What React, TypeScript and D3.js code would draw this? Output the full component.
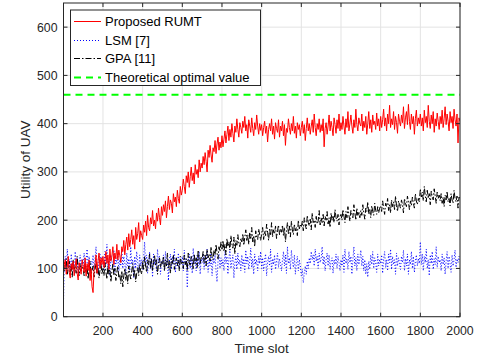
import React from 'react';
import * as d3 from 'd3';

// sampled every 5 time slots (slot 0..2000)
const rumt = [
  95, 108, 118, 88, 102, 125, 92, 80, 110, 98, 115, 85, 105, 120, 90, 76, 112, 100, 88, 118,
  105, 92, 122, 84, 110, 96, 118, 75, 100, 62, 50, 95, 108, 128, 90, 115, 132, 100, 122, 108,
  125, 102, 118, 135, 110, 128, 98, 140, 115, 125, 145, 108, 132, 120, 150, 118, 138, 126, 112, 145,
  135, 158, 128, 150, 165, 138, 172, 145, 160, 180, 150, 168, 140, 185, 160, 172, 195, 155, 178, 168,
  160, 190, 175, 198, 168, 210, 185, 178, 205, 192, 220, 188, 200, 182, 215, 198, 225, 205, 190, 228,
  210, 232, 218, 240, 205, 228, 250, 222, 242, 235, 215, 255, 238, 248, 228, 262, 245, 235, 270, 252,
  262, 285, 270, 255, 292, 278, 300, 268, 290, 310, 282, 298, 275, 315, 295, 305, 288, 325, 300, 318,
  308, 332, 315, 340, 322, 300, 345, 330, 355, 335, 320, 350, 342, 365, 338, 358, 372, 345, 362, 350,
  375, 352, 368, 385, 360, 378, 395, 365, 388, 372, 400, 380, 362, 395, 382, 410, 388, 372, 402, 392,
  380, 405, 392, 415, 385, 398, 370, 408, 395, 382, 412, 390, 375, 402, 388, 418, 395, 378, 400, 386,
  398, 375, 392, 405, 380, 395, 362, 388, 400, 385, 410, 378, 395, 368, 402, 390, 382, 408, 372, 395,
  385, 405, 375, 398, 355, 390, 382, 410, 392, 378, 400, 385, 415, 380, 395, 370, 402, 388, 398, 375,
  392, 405, 380, 398, 365, 390, 412, 385, 400, 378, 395, 408, 382, 420, 392, 375, 400, 388, 410, 382,
  398, 385, 410, 352, 390, 402, 378, 395, 418, 385, 405, 392, 375, 412, 398, 380, 408, 390, 420, 385,
  402, 388, 415, 395, 378, 410, 392, 425, 385, 400, 418, 395, 380, 408, 392, 430, 398, 385, 412, 400,
  395, 420, 385, 405, 392, 415, 378, 400, 425, 390, 408, 382, 418, 398, 405, 388, 422, 395, 410, 385,
  415, 392, 408, 430, 395, 412, 385, 420, 400, 438, 392, 410, 398, 425, 388, 415, 402, 380, 420, 405,
  395, 418, 402, 435, 390, 412, 425, 398, 440, 405, 388, 420, 400, 415, 378, 410, 428, 395, 412, 400,
  420, 395, 412, 385, 428, 402, 415, 392, 438, 405, 390, 418, 400, 425, 382, 410, 395, 422, 405, 388,
  415, 400, 428, 392, 410, 435, 398, 420, 405, 385, 425, 402, 415, 390, 430, 408, 395, 420, 360, 412,
  405,
];

const lsm = [
  30, 110, 125, 95, 140, 105, 118, 88, 130, 100, 115, 92, 135, 108, 122, 85, 112, 128, 98, 120,
  105, 132, 95, 118, 140, 102, 125, 90, 115, 108, 128, 98, 120, 145, 105, 88, 118, 130, 100, 125,
  112, 95, 135, 108, 150, 98, 120, 85, 128, 115, 102, 138, 92, 122, 110, 130, 95, 118, 105, 140,
  100, 125, 112, 88, 132, 105, 120, 95, 145, 108, 118, 80, 125, 100, 135, 112, 92, 128, 105, 118,
  98, 122, 155, 105, 128, 90, 115, 135, 100, 120, 82, 130, 108, 118, 95, 140, 112, 125, 88, 115,
  110, 128, 95, 135, 105, 120, 75, 118, 130, 98, 125, 110, 140, 92, 115, 105, 132, 100, 120, 112,
  125, 95, 138, 108, 120, 60, 115, 130, 100, 125, 90, 142, 110, 118, 95, 128, 105, 135, 88, 120,
  112, 130, 98, 125, 108, 140, 92, 118, 105, 132, 85, 120, 110, 128, 95, 72, 115, 130, 100, 122,
  105, 118, 95, 135, 110, 125, 88, 120, 140, 100, 115, 128, 80, 112, 125, 98, 132, 108, 118, 95,
  128, 105, 120, 92, 138, 110, 125, 98, 115, 142, 102, 120, 88, 130, 108, 118, 95, 125, 110, 135,
  100, 122, 95, 118, 130, 85, 112, 125, 105, 140, 92, 120, 108, 128, 98, 115, 132, 102, 120, 110,
  95, 118, 135, 105, 128, 90, 145, 110, 122, 98, 138, 115, 102, 128, 88, 112, 125, 95, 118, 105,
  85, 98, 70, 92, 105, 88, 115, 100, 122, 110, 135, 118, 128, 105, 140, 115, 125, 100, 132, 112,
  120, 145, 108, 125, 95, 118, 132, 105, 128, 98, 115, 122, 90, 118, 108, 130, 100, 125, 112, 95,
  118, 105, 128, 92, 140, 110, 120, 98, 135, 112, 125, 88, 118, 145, 105, 122, 95, 130, 108, 120,
  138, 105, 125, 95, 118, 88, 110, 82, 115, 98, 128, 108, 135, 100, 122, 112, 92, 130, 105, 118,
  110, 128, 90, 120, 135, 102, 118, 95, 130, 112, 140, 98, 125, 108, 118, 88, 132, 105, 122, 110,
  98, 125, 112, 138, 95, 120, 105, 130, 88, 118, 108, 135, 100, 125, 92, 115, 128, 105, 120, 110,
  155, 108, 130, 95, 125, 112, 140, 100, 118, 85, 128, 110, 135, 98, 120, 108, 145, 102, 125, 112,
  118, 95, 130, 108, 122, 88, 115, 135, 100, 125, 110, 92, 128, 105, 118, 138, 102, 120, 112, 125,
  118,
];

const gpa = [
  112, 95, 105, 120, 88, 100, 115, 92, 108, 82, 118, 98, 105, 90, 125, 100, 85, 110, 95, 105,
  98, 85, 110, 92, 105, 78, 100, 115, 88, 95, 105, 82, 98, 110, 90, 102, 80, 96, 108, 88,
  100, 85, 112, 92, 78, 105, 88, 98, 72, 95, 110, 85, 100, 75, 92, 105, 80, 88, 68, 95,
  62, 85, 100, 75, 92, 68, 105, 88, 78, 95, 110, 82, 98, 72, 90, 102, 85, 108, 95, 88,
  115, 98, 125, 105, 92, 118, 108, 130, 100, 120, 95, 112, 128, 105, 118, 88, 110, 122, 102, 115,
  108, 125, 95, 118, 105, 132, 100, 115, 90, 120, 110, 128, 98, 112, 122, 105, 118, 95, 125, 110,
  115, 100, 128, 108, 120, 95, 132, 112, 105, 125, 118, 98, 130, 110, 122, 102, 138, 115, 108, 125,
  120, 135, 112, 128, 105, 140, 122, 130, 115, 145, 125, 118, 138, 128, 150, 132, 120, 145, 135, 155,
  140, 158, 135, 150, 128, 162, 145, 155, 138, 168, 150, 142, 165, 130, 158, 148, 170, 152, 145, 162,
  155, 172, 148, 165, 180, 158, 170, 150, 175, 162, 185, 155, 168, 145, 178, 165, 160, 182, 170, 158,
  172, 185, 160, 178, 168, 192, 175, 158, 182, 170, 195, 165, 180, 172, 188, 162, 178, 190, 170, 182,
  175, 190, 168, 185, 155, 178, 195, 172, 188, 165, 198, 180, 170, 192, 178, 185, 168, 200, 182, 190,
  185, 198, 178, 205, 190, 182, 210, 195, 188, 202, 180, 215, 195, 200, 185, 208, 192, 198, 220, 190,
  205, 195, 212, 188, 208, 200, 218, 192, 205, 185, 215, 200, 210, 195, 222, 205, 198, 212, 190, 208,
  212, 200, 222, 208, 195, 218, 205, 228, 210, 198, 220, 212, 205, 232, 215, 200, 225, 210, 218, 205,
  220, 210, 232, 215, 202, 225, 218, 238, 212, 222, 205, 230, 218, 210, 235, 220, 212, 228, 215, 225,
  230, 218, 240, 225, 212, 235, 228, 245, 220, 232, 215, 242, 228, 238, 222, 250, 230, 218, 240, 232,
  225, 242, 232, 215, 245, 235, 228, 250, 238, 222, 240, 230, 248, 235, 225, 255, 240, 232, 245, 238,
  265, 248, 258, 240, 270, 250, 238, 262, 245, 255, 232, 260, 248, 242, 265, 250, 235, 258, 245, 252,
  240, 255, 235, 248, 228, 252, 242, 260, 238, 245, 230, 255, 242, 235, 262, 245, 238, 250, 225, 248,
  245,
];

const optimalValue = 460;
const slotStep = 5;
const xTicks = [200, 400, 600, 800, 1000, 1200, 1400, 1600, 1800, 2000];
const yTicks = [0, 100, 200, 300, 400, 500, 600];

const series = [
  { name: 'Proposed RUMT', values: rumt, color: '#ff0000', dash: 'none' },
  { name: 'LSM [7]', values: lsm, color: '#0000ff', dash: '1,2' },
  { name: 'GPA [11]', values: gpa, color: '#000000', dash: '6,2,1.5,2' },
];

const W = 481;
const H = 360;
const margin = { left: 63.5, right: 21, top: 3, bottom: 43.3 };

export default function App() {
  const x = d3.scaleLinear().domain([1, 2000]).range([margin.left, W - margin.right]);
  const y = d3.scaleLinear().domain([0, 650]).range([H - margin.bottom, margin.top]);
  const [x0, x1] = x.range();
  const [yb, yt] = y.range();
  const line = d3
    .line<number>()
    .x((_, i) => x(Math.max(1, i * slotStep)))
    .y((d) => y(d));
  const font = '"Liberation Sans", Arial, Helvetica, sans-serif';
  const axisColor = '#262626';

  const legendItems = [
    ...series.map((s) => ({ name: s.name, color: s.color, dash: s.dash, width: 1 })),
    { name: 'Theoretical optimal value', color: '#00ff00', dash: '7,5', width: 2 },
  ];

  return (
    <svg width={W} height={H} style={{ position: 'absolute', left: 0, top: 0, background: '#fff' }} fontFamily={font}>
      <defs>
        <clipPath id="plot">
          <rect x={x0} y={yt} width={x1 - x0} height={yb - yt} />
        </clipPath>
      </defs>
      {/* grid */}
      <g stroke="#e3e3e3" strokeWidth={1}>
        {xTicks.map((t) => (
          <line key={'gx' + t} x1={x(t)} x2={x(t)} y1={yt} y2={yb} />
        ))}
        {yTicks.map((t) => (
          <line key={'gy' + t} x1={x0} x2={x1} y1={y(t)} y2={y(t)} />
        ))}
      </g>
      {/* series */}
      <g clipPath="url(#plot)" fill="none">
        <line
          x1={x0}
          x2={x1}
          y1={y(optimalValue)}
          y2={y(optimalValue)}
          stroke="#00ff00"
          strokeWidth={2}
          strokeDasharray="7,5"
        />
        {[series[1], series[2], series[0]].map((s) => (
          <path
            key={s.name}
            d={line(s.values) || ''}
            stroke={s.color}
            strokeWidth={1}
            strokeDasharray={s.dash}
            strokeLinejoin="miter"
          />
        ))}
      </g>
      {/* box + ticks */}
      <rect x={x0} y={yt} width={x1 - x0} height={yb - yt} fill="none" stroke={axisColor} strokeWidth={1} />
      <g stroke={axisColor} strokeWidth={1}>
        {xTicks.map((t) => (
          <g key={'tx' + t}>
            <line x1={x(t)} x2={x(t)} y1={yb} y2={yb - 4} />
            <line x1={x(t)} x2={x(t)} y1={yt} y2={yt + 4} />
          </g>
        ))}
        {yTicks.map((t) => (
          <g key={'ty' + t}>
            <line x1={x0} x2={x0 + 4} y1={y(t)} y2={y(t)} />
            <line x1={x1} x2={x1 - 4} y1={y(t)} y2={y(t)} />
          </g>
        ))}
      </g>
      <g fontSize={12.3} fill={axisColor}>
        {xTicks.map((t) => (
          <text key={'lx' + t} x={x(t)} y={yb + 18} textAnchor="middle">
            {t}
          </text>
        ))}
        {yTicks.map((t) => (
          <text key={'ly' + t} x={x0 - 6} y={y(t) + 4.4} textAnchor="end">
            {t}
          </text>
        ))}
      </g>
      <text x={(x0 + x1) / 2} y={353} textAnchor="middle" fontSize={13.5} fill={axisColor}>
        Time slot
      </text>
      <text
        transform={`translate(30, ${(yt + yb) / 2}) rotate(-90)`}
        textAnchor="middle"
        fontSize={13.5}
        fill={axisColor}
      >
        Utility of UAV
      </text>
      {/* legend */}
      <g>
        <rect x={70.5} y={10} width={190} height={75.5} fill="#fff" stroke="#262626" strokeWidth={1} />
        {legendItems.map((it, i) => {
          const ry = Math.round(21 + i * 18.5) + 0.5;
          return (
            <g key={it.name}>
              <line
                x1={74}
                x2={101}
                y1={ry}
                y2={ry}
                stroke={it.color}
                strokeWidth={it.width}
                strokeDasharray={it.dash}
              />
              <text x={105} y={ry + 4.5} fontSize={13} fill="#000">
                {it.name}
              </text>
            </g>
          );
        })}
      </g>
    </svg>
  );
}
